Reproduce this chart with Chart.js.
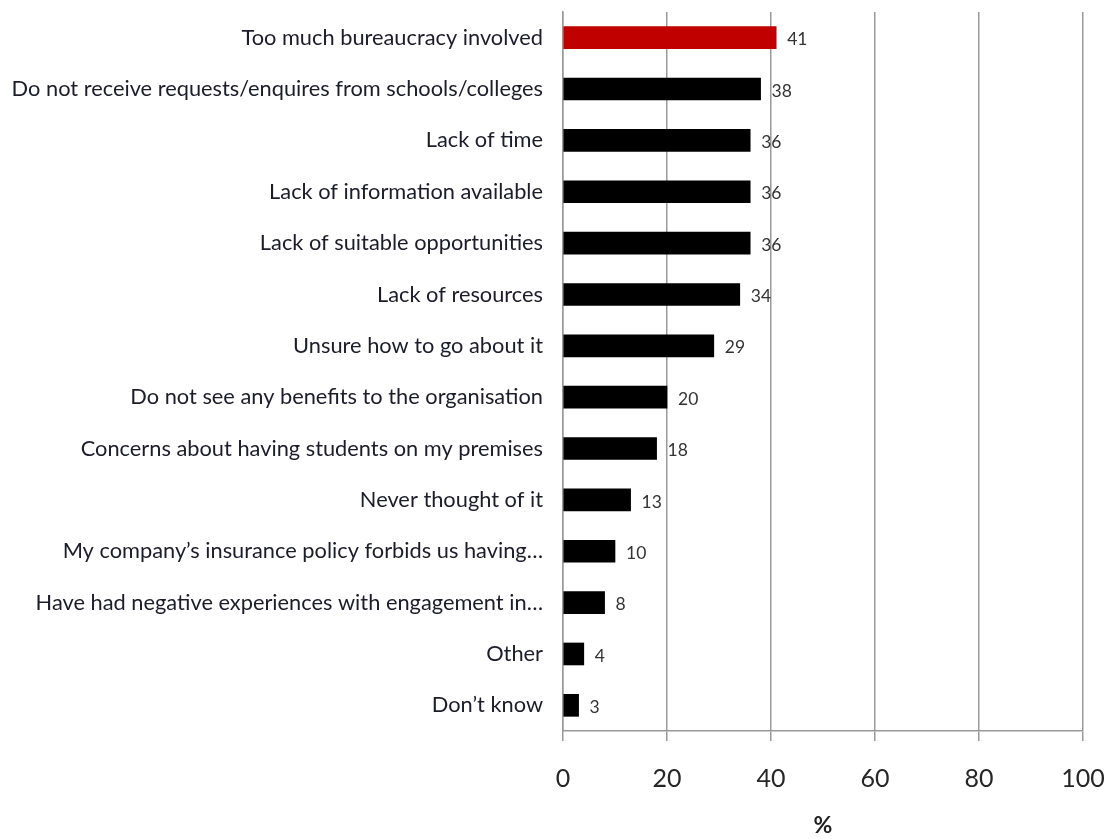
<!DOCTYPE html>
<html>
<head>
<meta charset="utf-8">
<script src="https://cdn.jsdelivr.net/npm/chart.js@4.4.1/dist/chart.umd.min.js"></script>
<style>
  html, body { margin: 0; padding: 0; background: #fff; }
  #wrap { width: 1111px; height: 839px; position: relative; }
</style>
</head>
<body>
<div id="wrap"><canvas id="c"></canvas></div>
<script>
// Reasons for not engaging with schools/colleges (%)
const categories = [
    'Too much bureaucracy involved',
    'Do not receive requests/enquires from schools/colleges',
    'Lack of time',
    'Lack of information available',
    'Lack of suitable opportunities',
    'Lack of resources',
    'Unsure how to go about it',
    'Do not see any benefits to the organisation',
    'Concerns about having students on my premises',
    'Never thought of it',
    'My company\u2019s insurance policy forbids us having\u2026',
    'Have had negative experiences with engagement in\u2026',
    'Other',
    'Don\u2019t know'
];
const values = [41, 38, 36, 36, 36, 34, 29, 20, 18, 13, 10, 8, 4, 3];
const xTicks = [0, 20, 40, 60, 80, 100];

const labelFont = 'Lato, "Open Sans", sans-serif';

// value labels to the right of each bar
const valueLabels = {
    id: 'valueLabels',
    afterDatasetsDraw(chart) {
        const ctx = chart.ctx;
        const meta = chart.getDatasetMeta(0);
        ctx.save();
        ctx.font = '17.5px ' + labelFont;
        ctx.fillStyle = '#333';
        ctx.textAlign = 'left';
        ctx.textBaseline = 'middle';
        meta.data.forEach((bar, i) => {
            ctx.fillText(String(values[i]), bar.x + 11, bar.y + 2);
        });
        ctx.restore();
    }
};

new Chart(document.getElementById('c'), {
    type: 'bar',
    data: {
        labels: categories,
        datasets: [{
            data: values,
            backgroundColor: values.map((_, i) => i === 0 ? '#C00000' : '#000000'),
            barThickness: 22,
            borderWidth: 0
        }]
    },
    options: {
        indexAxis: 'y',
        responsive: true,
        maintainAspectRatio: false,
        animation: false,
        layout: { padding: { left: 10, right: 28, top: 12, bottom: 0 } },
        plugins: {
            legend: { display: false },
            tooltip: { enabled: false }
        },
        scales: {
            x: {
                min: 0,
                max: 100,
                afterBuildTicks: s => { s.ticks = xTicks.map(v => ({ value: v })); },
                afterFit: s => {
                    s.height = 108;
                    s.paddingLeft = 0;
                    s.paddingRight = 0;
                },
                grid: {
                    color: '#9a9a9a',
                    lineWidth: 1.5,
                    tickLength: 10,
                    drawTicks: true
                },
                border: { color: '#9a9a9a', width: 1.5 },
                ticks: {
                    color: '#262626',
                    font: { family: labelFont, size: 25 },
                    padding: 23,
                    maxRotation: 0
                },
                title: {
                    display: true,
                    text: '%',
                    color: '#222',
                    font: { family: labelFont, size: 23, weight: 'bold' },
                    padding: { top: 0, bottom: 0 }
                }
            },
            y: {
                afterFit: s => {
                    s.width = 553;
                    s.paddingTop = 0;
                    s.paddingBottom = 0;
                },
                grid: { display: false, drawTicks: false },
                border: { color: '#9a9a9a', width: 1.5 },
                ticks: {
                    color: '#1c1c2a',
                    font: { family: labelFont, size: 21.8 },
                    padding: 20,
                    autoSkip: false
                }
            }
        }
    },
    plugins: [valueLabels]
});
</script>
</body>
</html>
